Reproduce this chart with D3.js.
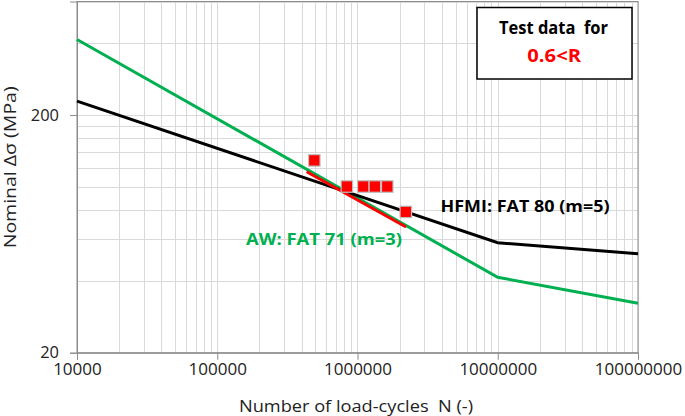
<!DOCTYPE html>
<html><head><meta charset="utf-8">
<script src="https://cdn.jsdelivr.net/npm/d3@7"></script>
<style>
body{margin:0;background:#fff;}
svg{display:block;font-family:"Open Sans",sans-serif;}
</style></head><body>
<svg id="c" width="685" height="416"></svg>
<script>
// Data
const xTicks = [1e4, 1e5, 1e6, 1e7, 1e8];
const xTickLabels = ["10000", "100000", "1000000", "10000000", "100000000"];
const yTicks = [20, 200];
const yTickLabels = ["20", "200"];
const hfmiN = [1e4, 1e7, 1e8];
const hfmiS = [228.5, 58.0, 52.2];
const awN = [1e4, 1e7, 1e8];
const awS = [415, 41.5, 32.3];
const fitN = [4.34e5, 2.22e6];
const fitS = [115.4, 67.6];
const testN = [4.92e5, 8.4e5, 1.10e6, 1.33e6, 1.63e6, 2.21e6];
const testS = [128.8, 100, 100, 100, 100, 78.2];

const FONT = "'Open Sans',sans-serif";
const svg = d3.select("#c");
const L = 77, R = 638, T = 1.5, B = 352.7;
const x = d3.scaleLog().domain([1e4, 1e8]).range([L, R]);
const y = d3.scaleLog().domain([20, 600]).range([B, T]);

// fit a text element's width to a target width
function fitW(sel, w) {
  sel.attr("textLength", w).attr("lengthAdjust", "spacingAndGlyphs");
}

// minor gridlines
const xMinor = [];
for (let d = 1e4; d < 1e8; d *= 10) for (let k = 2; k <= 9; k++) xMinor.push(d * k);
const yMinor = [];
[20, 200].forEach(d => { for (let k = 2; k <= 9; k++) { const v = d * k; if (v <= 600) yMinor.push(v); } });
const grid = svg.append("g").attr("stroke", "#d9d9d9").attr("stroke-width", 1);
xMinor.concat(xTicks).forEach(v => grid.append("line").attr("x1", Math.round(x(v))+0.5).attr("x2", Math.round(x(v))+0.5).attr("y1", T).attr("y2", B));
yMinor.concat(yTicks).forEach(v => grid.append("line").attr("y1", Math.round(y(v))+0.5).attr("y2", Math.round(y(v))+0.5).attr("x1", L).attr("x2", R));

// plot border
svg.append("rect").attr("x", L).attr("y", T).attr("width", R - L).attr("height", B - T)
  .attr("fill", "none").attr("stroke", "#8c8c8c").attr("stroke-width", 1);

// axes
const xAxis = d3.axisBottom(x).tickValues(xTicks).tickFormat((d, i) => xTickLabels[i]).tickSize(7).tickPadding(4);
const gx = svg.append("g").attr("transform", `translate(0,${B})`).call(xAxis);
gx.select(".domain").attr("stroke", "#8c8c8c");
gx.selectAll(".tick line").attr("stroke", "#8c8c8c");
gx.selectAll("text").attr("font-size", 16.4).attr("fill", "#222").attr("font-family", FONT)
  .each(function(d, i) { fitW(d3.select(this), 9.65 * xTickLabels[i].length + 0.5); });

const yAxis = d3.axisLeft(y).tickValues(yTicks).tickFormat((d, i) => yTickLabels[i]).tickSize(7).tickPadding(11);
const gy = svg.append("g").attr("transform", `translate(${L},0)`).call(yAxis);
gy.select(".domain").attr("stroke", "#8c8c8c");
gy.selectAll(".tick line").attr("stroke", "#8c8c8c");
gy.selectAll("text").attr("font-size", 16.4).attr("fill", "#222").attr("font-family", FONT)
  .each(function(d, i) { fitW(d3.select(this), 9.4 * yTickLabels[i].length); });

// lines
const line = d3.line().x(d => x(d[0])).y(d => y(d[1]));
const zip = (a, b) => a.map((v, i) => [v, b[i]]);
svg.append("path").datum(zip(awN, awS)).attr("d", line).attr("fill", "none").attr("stroke", "#00b050").attr("stroke-width", 3);
svg.append("path").datum(zip(hfmiN, hfmiS)).attr("d", line).attr("fill", "none").attr("stroke", "#000").attr("stroke-width", 3);
svg.append("path").datum(zip(fitN, fitS)).attr("d", line).attr("fill", "none").attr("stroke", "#ff0000").attr("stroke-width", 3);

// markers
const s = 11.5;
svg.append("g").selectAll("rect").data(zip(testN, testS)).join("rect")
  .attr("x", d => x(d[0]) - s / 2).attr("y", d => y(d[1]) - s / 2)
  .attr("width", s).attr("height", s)
  .attr("fill", "#ff0000").attr("stroke", "#c0c0c0").attr("stroke-width", 1.2);

// annotations
fitW(svg.append("text").attr("x", 440.5).attr("y", 212).attr("font-size", 16.8).attr("font-weight", "bold")
  .attr("fill", "#000").text("HFMI: FAT 80 (m=5)"), 169);
fitW(svg.append("text").attr("x", 246).attr("y", 245).attr("font-size", 16.8).attr("font-weight", "bold")
  .attr("fill", "#00b050").text("AW: FAT 71 (m=3)"), 156);

// legend box
svg.append("rect").attr("x", 477).attr("y", 7.5).attr("width", 155).attr("height", 71.5)
  .attr("fill", "#fff").attr("stroke", "#000").attr("stroke-width", 1.5);
fitW(svg.append("text").attr("x", 499).attr("y", 33.5).attr("font-size", 17.7)
  .attr("font-weight", "bold").attr("fill", "#000").attr("xml:space", "preserve").text("Test data  for"), 109);
fitW(svg.append("text").attr("x", 527.3).attr("y", 62.3).attr("font-size", 17.7)
  .attr("font-weight", "bold").attr("fill", "#ff0000").text("0.6<R"), 53.7);

// axis titles
fitW(svg.append("text").attr("x", 239).attr("y", 411.7).attr("font-size", 16)
  .attr("fill", "#222").attr("xml:space", "preserve").text("Number of load-cycles  N (-)"), 234);
fitW(svg.append("text").attr("transform", "translate(15.5,248.3) rotate(-90)")
  .attr("font-size", 16).attr("fill", "#222").text("Nominal Δσ (MPa)"), 162);
</script>
</body></html>
